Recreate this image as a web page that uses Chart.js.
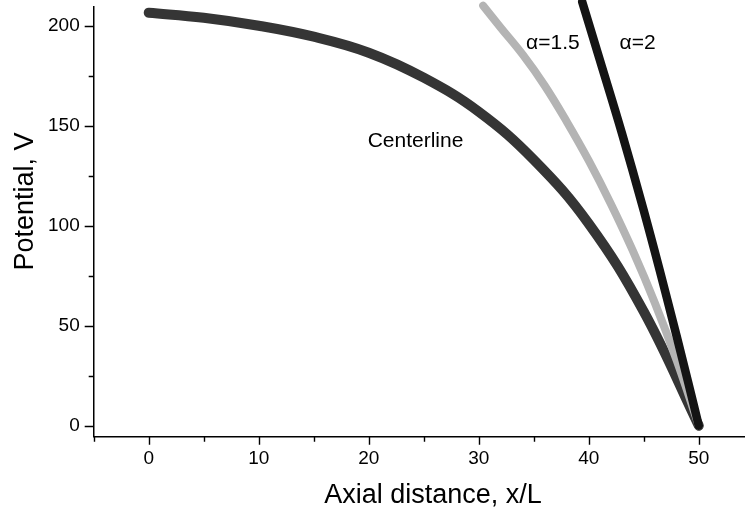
<!DOCTYPE html>
<html>
<head>
<meta charset="utf-8">
<title>Potential along the axis</title>
<script src="https://cdn.jsdelivr.net/npm/chart.js@4"></script>
<style>
  html, body { margin: 0; padding: 0; background: #fff; }
  #wrap { width: 745px; height: 515px; }
</style>
</head>
<body>
<div id="wrap"><canvas id="potChart" width="745" height="515"></canvas></div>
<script>
// --- Data ---
const centerX = [0, 5, 10, 15, 20, 25, 30, 35, 40, 45, 50];
const centerV = [206.5, 204, 200, 194.5, 186.5, 174, 157, 133, 101, 57, 0];

const alpha15X = [30.4, 32, 34, 36, 38, 40, 42, 44, 46, 48, 50];
const alpha15V = [210, 199, 185.5, 170, 152, 132.5, 111, 87.5, 61.5, 32.5, 0];

const alpha2X = [39.4, 41, 43, 45, 47, 49, 50];
const alpha2V = [212, 183, 146.5, 107.5, 66, 22.5, 0];

const curveNames = ["Centerline", "α=1.5", "α=2"];

const xTicks = [0, 10, 20, 30, 40, 50];
const xMinorTicks = [-5, 5, 15, 25, 35, 45];
const yTicks = [0, 50, 100, 150, 200];
const yMinorTicks = [25, 75, 125, 175];

const xTitle = "Axial distance, x/L";
const yTitle = "Potential, V";

// --- Style ---
const FONT = "'Liberation Sans', Arial, Helvetica, sans-serif";
Chart.defaults.font.family = FONT;
Chart.defaults.color = "#000";

function toPoints(xs, ys) {
  return xs.map((x, i) => ({ x, y: ys[i] }));
}

function lineSet(label, xs, ys, color, width, order) {
  return {
    label,
    data: toPoints(xs, ys),
    borderColor: color,
    backgroundColor: color,
    borderWidth: width,
    pointRadius: 0,
    pointHoverRadius: 0,
    tension: 0.4,
    borderCapStyle: "round",
    borderJoinStyle: "round",
    clip: false,
    order,
  };
}

// the axes keep no extra room for edge labels
function noScalePadding(s) {
  s.paddingTop = 0;
  s.paddingBottom = 0;
  s.paddingLeft = 0;
  s.paddingRight = 0;
}

// minor/major tick marks drawn outside the axes
const tickMarks = {
  id: "tickMarks",
  afterDraw(chart) {
    const { ctx, chartArea } = chart;
    const { x, y } = chart.scales;
    ctx.save();
    ctx.strokeStyle = "#000";
    ctx.lineWidth = 1.4;
    ctx.beginPath();
    const xMark = (v, len) => {
      const px = Math.round(x.getPixelForValue(v)) + 0.5;
      ctx.moveTo(px, chartArea.bottom);
      ctx.lineTo(px, chartArea.bottom + len);
    };
    const yMark = (v, len) => {
      const py = Math.round(y.getPixelForValue(v)) + 0.5;
      ctx.moveTo(chartArea.left, py);
      ctx.lineTo(chartArea.left - len, py);
    };
    xTicks.forEach((v) => xMark(v, 8));
    xMinorTicks.forEach((v) => xMark(v, 5));
    yTicks.forEach((v) => yMark(v, 9));
    yMinorTicks.forEach((v) => yMark(v, 5));
    ctx.stroke();
    ctx.restore();
  },
};

// axis titles and in-plot curve labels
const textLayer = {
  id: "textLayer",
  afterDraw(chart) {
    const { ctx } = chart;
    const { x, y } = chart.scales;
    ctx.save();
    ctx.fillStyle = "#000";

    ctx.font = `27px ${FONT}`;
    ctx.textAlign = "center";
    ctx.textBaseline = "alphabetic";
    ctx.fillText(xTitle, 433, 503);

    ctx.translate(33, 201.5);
    ctx.rotate(-Math.PI / 2);
    ctx.fillText(yTitle, 0, 0);
    ctx.setTransform(1, 0, 0, 1, 0, 0);

    ctx.font = `21px ${FONT}`;
    ctx.textAlign = "left";
    const spots = [
      [19.9, 139.5],
      [34.3, 188.5],
      [42.8, 188.5],
    ];
    curveNames.forEach((name, i) => {
      const [vx, vy] = spots[i];
      ctx.fillText(name, x.getPixelForValue(vx), y.getPixelForValue(vy));
    });
    ctx.restore();
  },
};

const ctx = document.getElementById("potChart").getContext("2d");

new Chart(ctx, {
  type: "line",
  data: {
    datasets: [
      lineSet(curveNames[0], centerX, centerV, "#353535", 10, 3),
      lineSet(curveNames[1], alpha15X, alpha15V, "#b4b4b4", 8, 2),
      lineSet(curveNames[2], alpha2X, alpha2V, "#141414", 8.5, 1),
    ],
  },
  options: {
    responsive: false,
    animation: false,
    devicePixelRatio: 1,
    layout: { padding: { top: 6.7, right: 0, left: 0, bottom: 0 } },
    plugins: {
      legend: { display: false },
      tooltip: { enabled: false },
      title: { display: false },
    },
    scales: {
      x: {
        type: "linear",
        min: -5,
        max: 54.2,
        border: { color: "#000", width: 1.5 },
        grid: { drawOnChartArea: false, drawTicks: false },
        ticks: {
          padding: 11,
          color: "#000",
          font: { size: 19 },
          maxRotation: 0,
          callback: (v) => v,
        },
        afterBuildTicks: (s) => {
          s.ticks = xTicks.map((value) => ({ value }));
        },
        afterFit: (s) => {
          s.height = 78.3;
          noScalePadding(s);
        },
      },
      y: {
        type: "linear",
        min: -5.5,
        max: 209.5,
        border: { color: "#000", width: 1.5 },
        grid: { drawOnChartArea: false, drawTicks: false },
        ticks: {
          padding: 14,
          color: "#000",
          font: { size: 19 },
          callback: (v) => v,
        },
        afterBuildTicks: (s) => {
          s.ticks = yTicks.map((value) => ({ value }));
        },
        afterFit: (s) => {
          s.width = 93.7;
          noScalePadding(s);
        },
      },
    },
  },
  plugins: [tickMarks, textLayer],
});
</script>
</body>
</html>
